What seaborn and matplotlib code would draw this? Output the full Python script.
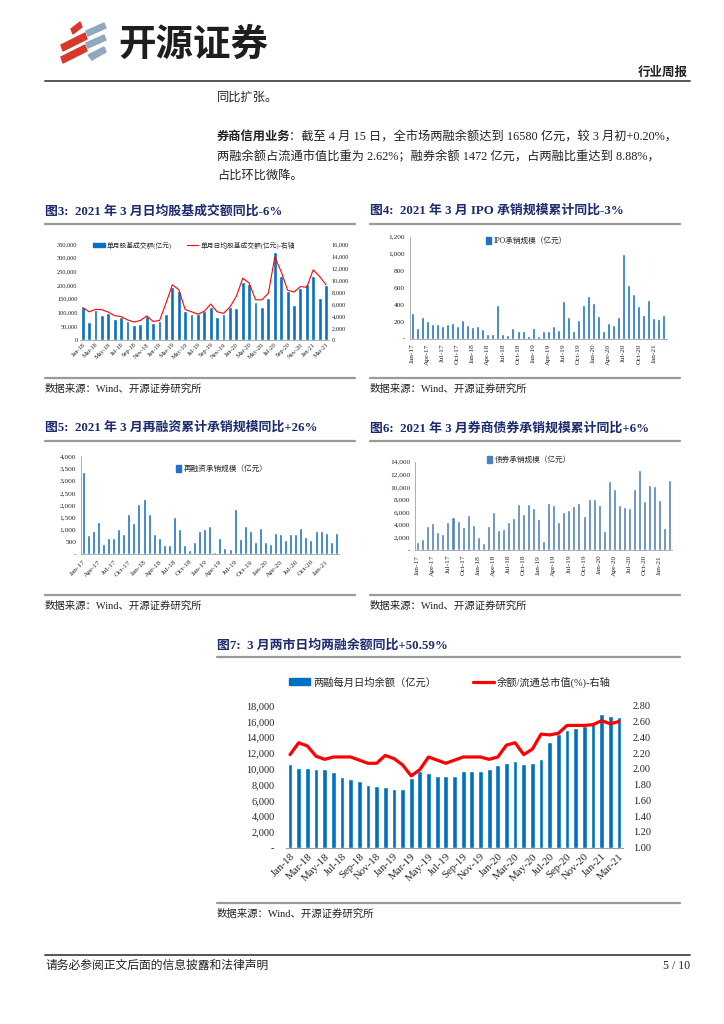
import numpy as np
import pandas as pd
import matplotlib
matplotlib.use("Agg")
import matplotlib.pyplot as plt
import seaborn as sns
from matplotlib.patches import Patch, Polygon
from matplotlib.lines import Line2D

sns.set_theme(style="white")
plt.rcParams['font.family'] = ['Liberation Serif', 'Noto Sans CJK SC', 'DejaVu Sans']
plt.rcParams['axes.unicode_minus'] = False

W, H = 724, 1024

# ---- data ----
months_18 = list(pd.date_range('2018-01-01', '2021-03-01', freq='MS').strftime('%b-%y'))  # 39 months
months_17 = list(pd.date_range('2017-01-01', '2021-03-01', freq='MS').strftime('%b-%y'))  # 51 months

# fig3: monthly stock+fund turnover (亿元) and daily average (亿元, right axis)
stock_turnover = [119000, 66000, 108000, 91000, 97000, 78000, 83000, 71000, 55000, 60000,
                  88000, 62000, 71000, 93000, 195000, 177000, 105000, 93000, 96000, 104000,
                  122000, 83000, 93000, 122000, 118000, 210000, 205000, 140000, 119000, 154000,
                  320000, 235000, 179000, 129000, 188000, 204000, 234000, 154000, 201000]
daily_turnover = [5400, 4700, 5100, 5050, 4650, 4050, 3900, 3350, 3000, 3250,
                  4000, 3100, 3250, 6100, 9200, 8400, 5100, 4700, 4300, 4800,
                  6000, 4700, 4450, 5500, 7300, 10300, 9500, 6700, 6700, 7800,
                  13800, 11400, 8300, 8000, 8900, 8800, 11700, 10600, 9200]

# fig4: IPO underwriting (亿元)
ipo_amount = [300, 125, 255, 205, 170, 170, 145, 170, 185, 155, 220, 160, 135, 145, 120, 55, 60,
              400, 55, 45, 125, 95, 95, 30, 125, 30, 90, 85, 155, 100, 440, 250, 95, 220, 400,
              500, 415, 265, 95, 185, 160, 250, 1000, 630, 530, 390, 280, 460, 240, 230, 280]

# fig5: refinancing underwriting (亿元)
refi_amount = [3360, 770, 950, 1315, 420, 665, 665, 1030, 815, 1640, 1275, 2050, 2250, 1640,
               815, 665, 390, 390, 1530, 1030, 365, 160, 500, 960, 1030, 1150, 95, 665, 270,
               215, 1860, 620, 1165, 935, 515, 1060, 490, 420, 855, 825, 580, 825, 840, 1085,
               705, 580, 935, 935, 870, 515, 855]

# fig6: bond underwriting (亿元)
bond_amount = [1270, 1690, 3800, 4230, 2850, 2480, 4440, 5280, 4600, 3590, 5490, 3960, 2060,
               1110, 3860, 6080, 3170, 3330, 4440, 5070, 7290, 5700, 7340, 6650, 4910, 1430,
               7450, 7130, 4440, 5970, 6290, 6920, 7400, 5390, 8140, 8030, 7130, 3060, 10940,
               9670, 7130, 6810, 6650, 9670, 12680, 7820, 10300, 10140, 7920, 3490, 11090]

# fig7: margin balance daily average (亿元) and balance / float market cap (%)
margin_balance = [10550, 10080, 10080, 10000, 9920, 9540, 8970, 8670, 8420, 7920, 7790, 7660,
                  7500, 7500, 8820, 9750, 9450, 9150, 9150, 9150, 9700, 9700, 9750, 9960,
                  10500, 10700, 11050, 10630, 10800, 11260, 13450, 14400, 14900, 15200, 15400,
                  15900, 16900, 16700, 16600]
margin_ratio = [2.18, 2.33, 2.29, 2.16, 2.12, 2.15, 2.15, 2.15, 2.11, 2.07, 2.07, 2.17, 2.13,
                2.05, 1.91, 1.99, 2.15, 2.11, 2.07, 2.11, 2.15, 2.15, 2.15, 2.12, 2.15, 2.30,
                2.33, 2.18, 2.25, 2.44, 2.43, 2.45, 2.55, 2.55, 2.55, 2.56, 2.61, 2.57, 2.60]

NAVY = '#1c2a6e'
BLUE = '#0b6fc1'
GRAY = '#9a9a9a'


def fx(x):
    return x / W


def fy(y):
    return 1 - y / H


def make_axes(x0, y0, x1, y1):
    return fig.add_axes([fx(x0), fy(y1), (x1 - x0) / W, (y1 - y0) / H])


def hline(x0, x1, y, color=GRAY, lw=1.6):
    fig.add_artist(Line2D([fx(x0), fx(x1)], [fy(y), fy(y)], color=color, lw=lw,
                          transform=fig.transFigure))


def ftext(x, y, s, **kw):
    kw.setdefault('va', 'center')
    fig.text(fx(x), fy(y), s, **kw)


def thousands(v):
    return '-' if v == 0 else f'{v:,.0f}'


def style_axis(ax, left=True, color='#a0a0a0'):
    for side in ['top', 'right']:
        ax.spines[side].set_visible(False)
    ax.spines['left'].set_visible(left)
    ax.spines['bottom'].set_color(color)
    ax.spines['left'].set_color(color)
    ax.spines['bottom'].set_linewidth(0.6)
    ax.spines['left'].set_linewidth(0.6)
    ax.set_xlabel('')
    ax.set_ylabel('')


def bar_panel(ax, labels, values, color, width, ymax, ystep, step, rot, fs, legend_label,
              legend_xy, legend_fs):
    df = pd.DataFrame({'month': labels, 'value': values})
    sns.barplot(data=df, x='month', y='value', color=color, width=width, saturation=1, ax=ax)
    ax.set_xlim(-0.5, len(labels) - 0.5)
    ax.set_ylim(0, ymax)
    ticks = np.arange(0, ymax + 1, ystep)
    ax.set_yticks(ticks)
    ax.set_yticklabels([thousands(t) for t in ticks], fontsize=fs)
    ax.set_xticks(range(0, len(labels), step))
    if rot == 90:
        ax.set_xticklabels(labels[::step], rotation=90, fontsize=fs, ha='center', va='top')
    else:
        ax.set_xticklabels(labels[::step], rotation=45, fontsize=fs, ha='right',
                           rotation_mode='anchor')
    ax.tick_params(axis='both', length=2, width=0.5, color='#a0a0a0', pad=1.5)
    style_axis(ax)
    ax.legend(handles=[Patch(color=color)], labels=[legend_label], loc='center left',
              bbox_to_anchor=(fx(legend_xy[0]), fy(legend_xy[1])), bbox_transform=fig.transFigure,
              frameon=False, fontsize=legend_fs, handlelength=0.7, handleheight=0.9,
              handletextpad=0.3, borderpad=0, borderaxespad=0)


fig = plt.figure(figsize=(W / 100, H / 100), dpi=100)

# ---- header ----
red_bands = [[(71, 29), (80, 22), (82, 27), (73, 34)],
             [(61, 45), (85, 33), (87, 39), (63, 51)],
             [(61, 57), (85, 45), (87, 51), (63, 63)]]
blue_bands = [[(86, 31), (104, 23), (106, 28), (88, 36)],
              [(86, 43), (104, 35), (106, 40), (88, 48)],
              [(88, 55), (104, 47), (106, 52), (92, 60)]]
for band in red_bands:
    fig.add_artist(Polygon([(fx(a), fy(b)) for a, b in band], closed=True, color='#d8382c',
                           transform=fig.transFigure))
for band in blue_bands:
    fig.add_artist(Polygon([(fx(a), fy(b)) for a, b in band], closed=True, color='#8fa8bd',
                           transform=fig.transFigure))
ftext(118, 44, '开源证券', fontsize=27, fontweight='bold', family=['Noto Sans CJK SC'],
      color='#1e1e1e')
ftext(688, 73, '行业周报', fontsize=9, fontweight='bold', ha='right', color='#222222')
hline(45, 690, 81, color='#555555', lw=1.4)

# ---- body text ----
body_kw = dict(fontsize=8.8, color='#222222')
ftext(217, 98, '同比扩张。', **body_kw)
ftext(217, 137, '券商信用业务', fontweight='bold', **body_kw)
ftext(289, 137, '：截至 4 月 15 日，全市场两融余额达到 16580 亿元，较 3 月初+0.20%，', **body_kw)
ftext(217, 157, '两融余额占流通市值比重为 2.62%；融券余额 1472 亿元，占两融比重达到 8.88%，',
      **body_kw)
ftext(217, 176, '占比环比微降。', **body_kw)

# ---- titles / separators ----
title_kw = dict(fontsize=9.3, fontweight='bold', color=NAVY)
ftext(45, 211, '图3:  2021 年 3 月日均股基成交额同比-6%', **title_kw)
ftext(370, 211, '图4:  2021 年 3 月 IPO 承销规模累计同比-3%', **title_kw)
ftext(45, 428, '图5:  2021 年 3 月再融资累计承销规模同比+26%', **title_kw)
ftext(370, 428, '图6:  2021 年 3 月券商债券承销规模累计同比+6%', **title_kw)
ftext(217, 645, '图7:  3 月两市日均两融余额同比+50.59%', **title_kw)
for x0, x1, y in [(45, 355, 224), (370, 680, 224), (45, 355, 441), (370, 680, 441),
                  (217, 680, 657), (45, 355, 378), (370, 680, 378), (45, 355, 595),
                  (370, 680, 595), (217, 680, 903)]:
    hline(x0, x1, y)

src_kw = dict(fontsize=7.5, color='#222222')
for x, y in [(45, 389), (370, 389), (45, 606), (370, 606), (217, 914)]:
    ftext(x, y, '数据来源：Wind、开源证券研究所', **src_kw)

# ---- footer ----
hline(45, 690, 955, color='#555555', lw=1.4)
ftext(45, 966, '请务必参阅正文后面的信息披露和法律声明', fontsize=8.5, color='#222222')
ftext(690, 966, '5 / 10', fontsize=8.5, color='#222222', ha='right')

# ---- fig3 ----
ax3 = make_axes(79.5, 244, 329.2, 340)
df3 = pd.DataFrame({'month': months_18, 'turnover': stock_turnover})
sns.barplot(data=df3, x='month', y='turnover', color=BLUE, width=0.6, saturation=1, ax=ax3)
ax3r = ax3.twinx()
sns.lineplot(x=np.arange(len(months_18)), y=daily_turnover, color='red', lw=0.8, ax=ax3r)
ax3.set_xlim(-0.5, len(months_18) - 0.5)
ax3.set_ylim(0, 350000)
t3 = np.arange(0, 350001, 50000)
ax3.set_yticks(t3)
ax3.set_yticklabels([f'{t:,}' for t in t3], fontsize=4.6)
ax3r.set_ylim(0, 16000)
t3r = np.arange(0, 16001, 2000)
ax3r.set_yticks(t3r)
ax3r.set_yticklabels([f'{t:,}' for t in t3r], fontsize=4.6)
ax3.set_xticks(range(0, len(months_18), 2))
ax3.set_xticklabels(months_18[::2], rotation=45, fontsize=4.6, ha='right', rotation_mode='anchor')
ax3.tick_params(axis='both', length=0, pad=1.5)
ax3r.tick_params(axis='both', length=0, pad=2)
style_axis(ax3, left=False)
for s in ax3r.spines.values():
    s.set_visible(False)
ax3r.set_ylabel('')
ax3.legend(handles=[Patch(color=BLUE), Line2D([], [], color='red', lw=0.8)],
           labels=['单月股基成交额(亿元)', '单月日均股基成交额(亿元)-右轴'], loc='center',
           bbox_to_anchor=(fx(194), fy(245)), bbox_transform=fig.transFigure, ncol=2,
           frameon=False, fontsize=4.9, handlelength=1.7, handleheight=0.7,
           handletextpad=0.3, columnspacing=2.2, borderpad=0, borderaxespad=0)

# ---- fig4 ----
ax4 = make_axes(409.8, 236.7, 666.5, 338.7)
bar_panel(ax4, months_17, ipo_amount, '#1f72c6', 0.6, 1200, 200, 3, 90, 5.3,
          'IPO承销规模（亿元）', (486, 241), 5.5)

# ---- fig5 ----
ax5 = make_axes(80.8, 456, 338.8, 554.3)
bar_panel(ax5, months_17, refi_amount, '#1f72c6', 0.6, 4000, 500, 3, 45, 5.3,
          '再融资承销规模（亿元）', (176, 469), 5.5)

# ---- fig6 ----
ax6 = make_axes(415.2, 461.7, 672.2, 550)
bar_panel(ax6, months_17, bond_amount, '#4f81bd', 0.6, 14000, 2000, 3, 90, 5.3,
          '债券承销规模（亿元）', (487, 460), 5.5)

# ---- fig7 ----
ax7 = make_axes(285.7, 705.7, 623.3, 847.7)
df7 = pd.DataFrame({'month': months_18, 'balance': margin_balance})
sns.barplot(data=df7, x='month', y='balance', color='#0070c0', width=0.55, saturation=1, ax=ax7)
ax7r = ax7.twinx()
sns.lineplot(x=np.arange(len(months_18)), y=margin_ratio, color='#ff0000', lw=2.3, ax=ax7r)
ax7.set_xlim(-0.5, len(months_18) - 0.5)
ax7.set_ylim(0, 18000)
t7 = np.arange(0, 18001, 2000)
ax7.set_yticks(t7)
ax7.set_yticklabels([thousands(t) for t in t7], fontsize=7.5)
ax7r.set_ylim(1.0, 2.8)
t7r = np.arange(1.0, 2.81, 0.2)
ax7r.set_yticks(t7r)
ax7r.set_yticklabels([f'{t:.2f}' for t in t7r], fontsize=7.5)
ax7.set_xticks(range(0, len(months_18), 2))
ax7.set_xticklabels(months_18[::2], rotation=45, fontsize=7.8, ha='right', rotation_mode='anchor')
ax7.tick_params(axis='y', length=0, pad=8)
ax7.tick_params(axis='x', length=0, pad=3)
ax7r.tick_params(axis='both', length=0, pad=7)
style_axis(ax7, left=False)
ax7.spines['bottom'].set_linewidth(0.8)
for s in ax7r.spines.values():
    s.set_visible(False)
ax7r.set_ylabel('')
ax7.legend(handles=[Patch(color='#0070c0'), Line2D([], [], color='#ff0000', lw=2.3)],
           labels=['两融每月日均余额（亿元）', '余额/流通总市值(%)-右轴'], loc='center',
           bbox_to_anchor=(fx(450), fy(682)), bbox_transform=fig.transFigure, ncol=2,
           frameon=False, fontsize=7.4, handlelength=2.0, handleheight=0.7,
           handletextpad=0.3, columnspacing=3.6, borderpad=0, borderaxespad=0)

fig.savefig('out.png', dpi=100)
